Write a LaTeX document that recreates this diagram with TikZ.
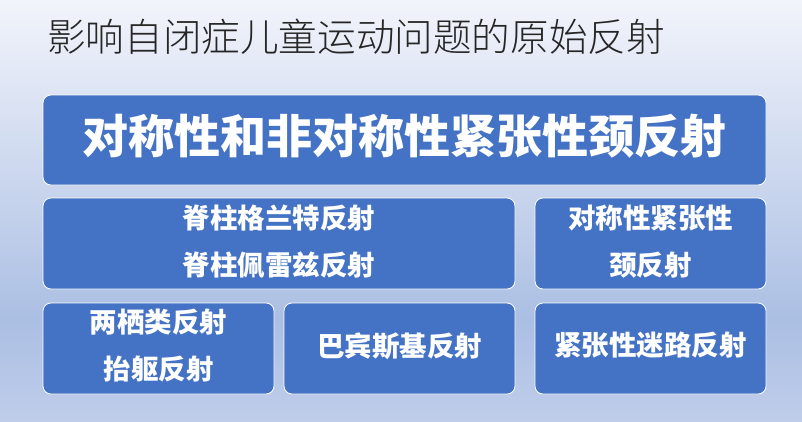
\documentclass[tikz,border=0pt]{standalone}
\usepackage{fontspec}
\newfontfamily\cjk{Noto Sans CJK SC}
\newfontfamily\cjklight{Noto Sans CJK SC Light}
\definecolor{bgtop}{HTML}{F2F4FB}
\definecolor{bgmid}{HTML}{ABBFE3}
\definecolor{bgbot}{HTML}{BFCDEA}
\definecolor{boxblue}{HTML}{4472C4}
\definecolor{titlegray}{HTML}{262626}
\tikzset{
  pbox/.style={draw=white, line width=0.8pt, fill=boxblue, rounded corners=8pt, inner sep=0pt},
  ptext/.style={inner sep=0pt, text=white, align=center, font=\cjk\bfseries\fontsize{27.5}{47}\selectfont},
}
\begin{document}
\begin{tikzpicture}[x=1pt,y=-1pt]
\useasboundingbox (0,0) rectangle (802,421);
\shade[top color=bgtop, bottom color=bgmid] (0,0) rectangle (802,320);
\shade[top color=bgmid, bottom color=bgbot] (0,320) rectangle (802,421);
\node[anchor=west, text=titlegray, inner sep=0pt, font=\cjklight\fontsize{38.6}{42}\selectfont] (title) at (47,37) {影响自闭症儿童运动问题的原始反射};
\node[pbox, minimum width=723pt, minimum height=90pt] (b1) at (404.5,140) {};
\node[pbox, minimum width=472pt, minimum height=91pt] (b2) at (279,243.5) {};
\node[pbox, minimum width=231pt, minimum height=91pt] (b3) at (650.5,243.5) {};
\node[pbox, minimum width=231pt, minimum height=91pt] (b4) at (158.5,348.5) {};
\node[pbox, minimum width=231pt, minimum height=91pt] (b5) at (399.5,348.5) {};
\node[pbox, minimum width=231pt, minimum height=91pt] (b6) at (650.5,348.5) {};
\node[ptext, font=\cjk\bfseries\fontsize{46}{50}\selectfont] (t1) at ([yshift=3.5pt]b1.center) {对称性和非对称性紧张性颈反射};
\node[ptext] (t2) at ([yshift=2pt]b2.center) {脊柱格兰特反射\\脊柱佩雷兹反射};
\node[ptext] (t3) at ([yshift=2pt]b3.center) {对称性紧张性\\颈反射};
\node[ptext] (t4) at ([yshift=2.5pt]b4.center) {两栖类反射\\抬躯反射};
\node[ptext] (t5) at ([yshift=2pt]b5.center) {巴宾斯基反射};
\node[ptext] (t6) at ([yshift=3.5pt]b6.center) {紧张性迷路反射};
\end{tikzpicture}
\end{document}
